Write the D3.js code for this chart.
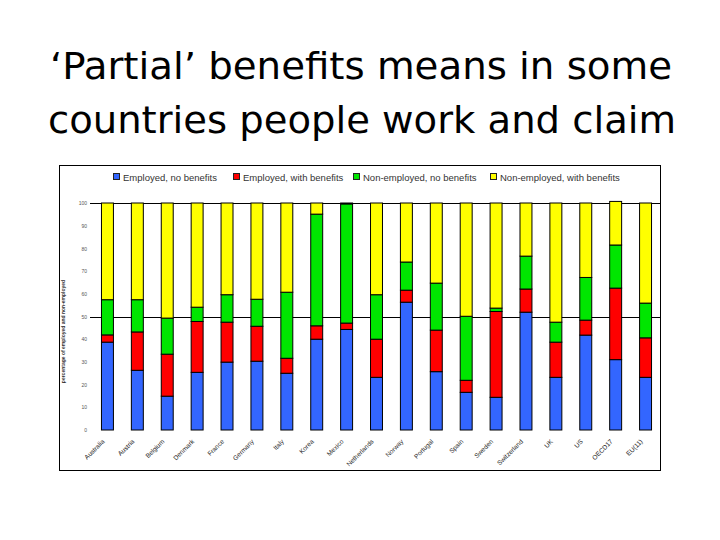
<!DOCTYPE html>
<html>
<head>
<meta charset="utf-8">
<script src="https://cdn.jsdelivr.net/npm/d3@7"></script>
<style>
  html, body { margin: 0; padding: 0; background: #fff; }
  svg { display: block; }
</style>
</head>
<body>
<div id="chart"></div>
<script>
const COUNTRIES = ['Australia', 'Austria', 'Belgium', 'Denmark', 'France', 'Germany', 'Italy', 'Korea', 'Mexico', 'Netherlands',
        'Norway', 'Portugal', 'Spain', 'Sweden', 'Switzerland', 'UK', 'US', 'OECD17', 'EU(11)'],
      SERIES = ['Employed, no benefits', 'Employed, with benefits', 'Non-employed, no benefits', 'Non-employed, with benefits'],
      EMPLOYED_NO_BENEFITS = [38.7, 26.3, 14.9, 25.4, 29.9, 30.3, 25.0, 40.0, 44.3, 23.2, 56.3, 25.7, 16.6, 14.4, 51.9, 23.2, 41.8, 31.0, 23.2],
      EMPLOYED_WITH_BENEFITS = [3.2, 16.9, 18.5, 22.4, 17.6, 15.4, 6.6, 5.9, 2.8, 16.8, 5.3, 18.3, 5.3, 37.8, 10.2, 15.5, 6.6, 31.5, 17.4],
      NONEMPLOYED_NO_BENEFITS = [15.5, 14.2, 15.9, 6.3, 12.1, 11.9, 29.1, 49.2, 52.5, 19.6, 12.4, 20.7, 28.2, 1.5, 14.5, 8.8, 18.8, 19.0, 15.3],
      NONEMPLOYED_WITH_BENEFITS = [42.6, 42.6, 50.7, 45.9, 40.4, 42.4, 39.3, 4.9, 0.4, 40.4, 26.0, 35.3, 49.9, 46.3, 23.4, 52.5, 32.8, 19.2, 44.1],
      Y_TICKS = [0, 10, 20, 30, 40, 50, 60, 70, 80, 90, 100],
      GRID_TICKS = [50, 100],
      COLORS = ['#3366FF', '#FF0000', '#00E600', '#FFFF00'],
      TITLE_LINES = ['‘Partial’ benefits means in some', 'countries people work and claim'],
      Y_LABEL = 'percentage of employed and non-employed'

const SIZE = Object.freeze({ WIDTH: 720, HEIGHT: 540 }),
      FRAME = Object.freeze({ LEFT: 59, TOP: 165, RIGHT: 660, BOTTOM: 470 }),
      PLOT = Object.freeze({ LEFT: 92, RIGHT: 660, TOP: 203, BOTTOM: 430 })

const table = COUNTRIES.map((c, i) => ({
  country: c,
  [SERIES[0]]: EMPLOYED_NO_BENEFITS[i],
  [SERIES[1]]: EMPLOYED_WITH_BENEFITS[i],
  [SERIES[2]]: NONEMPLOYED_NO_BENEFITS[i],
  [SERIES[3]]: NONEMPLOYED_WITH_BENEFITS[i]
}))

const svg = d3.select('#chart').append('svg')
  .attr('width', SIZE.WIDTH)
  .attr('height', SIZE.HEIGHT)

// title
const titleWidths = [622, 628]
svg.selectAll('text.title')
  .data(TITLE_LINES)
  .enter()
  .append('text')
  .attr('class', 'title')
  .attr('x', (d, i) => i === 0 ? 50 : 48)
  .attr('y', (d, i) => 79 + i * 54)
  .attr('textLength', (d, i) => titleWidths[i])
  .attr('lengthAdjust', 'spacingAndGlyphs')
  .style('font-family', '"DejaVu Sans Condensed", "DejaVu Sans", sans-serif')
  .style('font-size', '38px')
  .style('fill', '#000')
  .text(d => d)

// outer frame
svg.append('rect')
  .attr('x', FRAME.LEFT + 0.5)
  .attr('y', FRAME.TOP + 0.5)
  .attr('width', FRAME.RIGHT - FRAME.LEFT)
  .attr('height', FRAME.BOTTOM - FRAME.TOP)
  .attr('fill', 'none')
  .attr('stroke', '#000')
  .attr('stroke-width', 1)

const x = d3.scaleBand()
  .domain(COUNTRIES)
  .range([PLOT.LEFT, PLOT.RIGHT])
  .paddingInner(0.6)
  .paddingOuter(0.3)

const y = d3.scaleLinear()
  .domain([0, 100])
  .range([PLOT.BOTTOM, PLOT.TOP])

// grid lines at 50 and 100
svg.append('g')
  .selectAll('line')
  .data(GRID_TICKS)
  .enter()
  .append('line')
  .attr('x1', 90)
  .attr('x2', PLOT.RIGHT)
  .attr('y1', d => Math.round(y(d)) + 0.5)
  .attr('y2', d => Math.round(y(d)) + 0.5)
  .attr('stroke', '#000')
  .attr('stroke-width', 1)

// y axis (labels only)
const yAxis = d3.axisLeft(y)
  .tickValues(Y_TICKS)
  .tickSize(0)
  .tickPadding(0)
const yG = svg.append('g')
  .attr('transform', 'translate(87, 0)')
  .call(yAxis)
yG.select('.domain').remove()
yG.selectAll('text')
  .style('font-family', '"Liberation Sans", Arial, sans-serif')
  .style('font-size', '5px')
  .style('fill', '#555')

svg.append('text')
  .attr('transform', `translate(65, ${(260 + 403) / 2}) rotate(-90)`)
  .attr('text-anchor', 'middle')
  .style('font-family', '"Liberation Sans", Arial, sans-serif')
  .style('font-size', '5px')
  .style('font-weight', 'bold')
  .style('fill', '#333')
  .text(Y_LABEL)

// stacked bars
const stacked = d3.stack().keys(SERIES)(table)
svg.append('g')
  .selectAll('g')
  .data(stacked)
  .enter()
  .append('g')
  .attr('fill', (d, i) => COLORS[i])
  .selectAll('rect')
  .data(d => d)
  .enter()
  .append('rect')
  .attr('x', d => x(d.data.country) + 0.5)
  .attr('y', d => y(d[1]))
  .attr('width', x.bandwidth())
  .attr('height', d => Math.max(0, y(d[0]) - y(d[1])))
  .attr('stroke', '#000')
  .attr('stroke-width', 1)

// x axis labels
const xAxis = d3.axisBottom(x).tickSize(0).tickPadding(0)
const xG = svg.append('g')
  .attr('transform', `translate(-2, ${PLOT.BOTTOM + 12})`)
  .call(xAxis)
xG.select('.domain').remove()
xG.selectAll('text')
  .attr('text-anchor', 'end')
  .attr('dy', 0)
  .attr('transform', 'rotate(-45)')
  .style('font-family', '"Liberation Sans", Arial, sans-serif')
  .style('font-size', '6.5px')
  .style('fill', '#222')

// legend
const legend = svg.append('g')
  .attr('transform', 'translate(0, 177)')
const legendX = [113, 233, 353, 490]
SERIES.forEach((s, i) => {
  const g = legend.append('g').attr('transform', `translate(${legendX[i]}, 0)`)
  g.append('rect')
    .attr('x', 0.5)
    .attr('y', -3.5)
    .attr('width', 6)
    .attr('height', 6)
    .attr('fill', COLORS[i])
    .attr('stroke', '#222')
    .attr('stroke-width', 1)
  g.append('text')
    .attr('x', 10)
    .attr('y', 3.5)
    .style('font-family', '"Liberation Sans", Arial, sans-serif')
    .style('font-size', '9.5px')
    .style('fill', '#333')
    .text(s)
})
</script>
</body>
</html>
